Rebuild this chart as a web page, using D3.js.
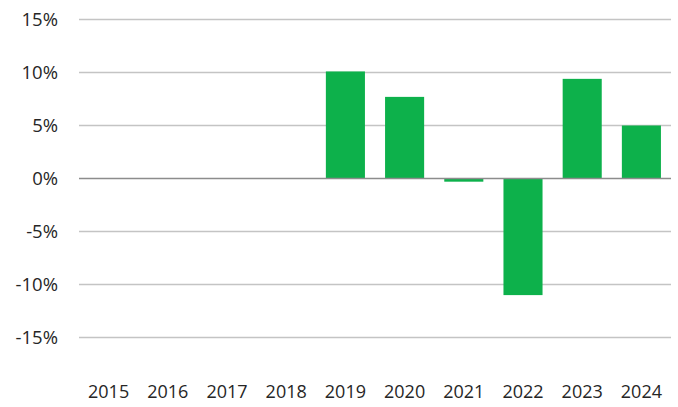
<!DOCTYPE html>
<html>
<head>
<meta charset="utf-8">
<script src="https://cdn.jsdelivr.net/npm/d3@7"></script>
<style>
  html, body { margin: 0; padding: 0; background: #fff; overflow: hidden; }
  svg { display: block; }
</style>
</head>
<body>
<div id="chart"></div>
<script>
// data
var years = ["2015", "2016", "2017", "2018", "2019", "2020", "2021", "2022", "2023", "2024"];
var growth = [null, null, null, null, 0.101, 0.077, -0.003, -0.110, 0.094, 0.050];
var yTicks = [-0.15, -0.10, -0.05, 0, 0.05, 0.10, 0.15];

var width = 678,
    height = 407,
    margin = { top: 19.5, right: 7, bottom: 69.5, left: 79 };

var innerWidth = width - margin.left - margin.right,
    innerHeight = height - margin.top - margin.bottom;

var svg = d3.select("#chart").append("svg")
    .attr("width", width)
    .attr("height", height);

var g = svg.append("g")
    .attr("transform", "translate(" + margin.left + "," + margin.top + ")");

var xScale = d3.scaleBand()
    .domain(years)
    .range([0, innerWidth])
    .paddingInner(0.34)
    .paddingOuter(0.17);

var yScale = d3.scaleLinear()
    .domain([-0.15, 0.15])
    .range([innerHeight, 0]);

// gridlines
g.selectAll(".grid")
    .data(yTicks.filter(function(d) { return d !== 0; }))
    .enter().append("line")
    .attr("class", "grid")
    .attr("x1", 0)
    .attr("x2", innerWidth)
    .attr("y1", function(d) { return yScale(d); })
    .attr("y2", function(d) { return yScale(d); })
    .attr("stroke", "#c4c4c4")
    .attr("stroke-width", 1.3);

// y labels
g.selectAll(".ylab")
    .data(yTicks)
    .enter().append("text")
    .attr("class", "ylab")
    .attr("x", -21)
    .attr("y", function(d) { return yScale(d); })
    .attr("dy", "0.35em")
    .attr("text-anchor", "end")
    .attr("font-family", "'Open Sans', sans-serif")
    .attr("font-size", 18.5)
    .attr("fill", "#262626")
    .text(function(d) { return Math.round(d * 100) + "%"; });

// bars
var data = years.map(function(y, i) { return [y, growth[i]]; })
    .filter(function(d) { return d[1] !== null; });

g.selectAll(".bar")
    .data(data)
    .enter().append("rect")
    .attr("class", "bar")
    .attr("x", function(d) { return xScale(d[0]); })
    .attr("width", xScale.bandwidth())
    .attr("y", function(d) { return yScale(Math.max(0, d[1])); })
    .attr("height", function(d) { return Math.abs(yScale(d[1]) - yScale(0)); })
    .attr("fill", "#0db14b");

// zero line
g.append("line")
    .attr("x1", 0)
    .attr("x2", innerWidth)
    .attr("y1", yScale(0))
    .attr("y2", yScale(0))
    .attr("stroke", "#8c8c8c")
    .attr("stroke-width", 1.6);

// x labels
g.selectAll(".xlab")
    .data(years)
    .enter().append("text")
    .attr("class", "xlab")
    .attr("x", function(d) { return xScale(d) + xScale.bandwidth() / 2; })
    .attr("y", innerHeight + 60)
    .attr("text-anchor", "middle")
    .attr("font-family", "'Open Sans', sans-serif")
    .attr("font-size", 18)
    .attr("fill", "#262626")
    .text(function(d) { return d; });
</script>
</body>
</html>
